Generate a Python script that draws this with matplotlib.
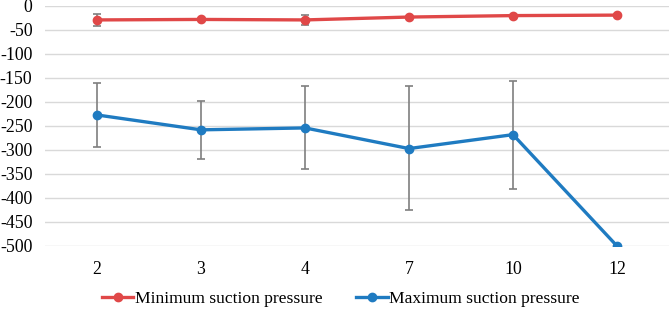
import matplotlib
matplotlib.use("Agg")
import matplotlib.pyplot as plt
import numpy as np

categories = ["2", "3", "4", "7", "10", "12"]

min_suction = [-29, -28, -29, -23, -20, -19]
min_err_lo = [13, 0, 11, 0, 0, 0]
min_err_hi = [12, 0, 10, 0, 0, 0]

max_suction = [-227, -258, -254, -297, -268, -500]
max_err_lo = [66, 60, 86, 129, 113, 0]
max_err_hi = [67, 60, 87, 130, 112, 0]

plt.rcParams["font.family"] = "Liberation Serif"
plt.rcParams["axes.unicode_minus"] = False

fig = plt.figure(figsize=(6.71, 3.09), dpi=100)
ax = fig.add_axes([45 / 671, 1 - 246 / 309, 624 / 671, 240 / 309])

x = np.arange(len(categories))
red = "#E04848"
blue = "#1F7BC1"

ax.errorbar(x, min_suction, yerr=[min_err_lo, min_err_hi], fmt="none",
            ecolor="#7f7f7f", elinewidth=1.2, capsize=3, capthick=1.2, zorder=2)
ax.errorbar(x, max_suction, yerr=[max_err_lo, max_err_hi], fmt="none",
            ecolor="#7f7f7f", elinewidth=1.2, capsize=3, capthick=1.2, zorder=2)
ax.plot(x, min_suction, color=red, lw=2.4, marker="o", ms=6,
        label="Minimum suction pressure", zorder=3)
ax.plot(x, max_suction, color=blue, lw=2.4, marker="o", ms=6,
        label="Maximum suction pressure", zorder=3)

ax.set_xlim(-0.5, len(categories) - 0.5)
ax.set_ylim(-500, 0)
ax.set_yticks(np.arange(-500, 1, 50))
ax.set_xticks(x)
ax.set_xticklabels(categories)
ax.grid(axis="y", color="#d9d9d9", lw=1)
ax.set_axisbelow(True)
for s in ax.spines.values():
    s.set_visible(False)
ax.tick_params(length=0, labelsize=12.8)
ax.tick_params(axis="x", pad=11)
ax.tick_params(axis="y", pad=9)

fig.legend(loc="lower center", ncol=2, frameon=False, fontsize=12.6,
           bbox_to_anchor=(0.508, -0.045), handlelength=1.8, columnspacing=1.9,
           handletextpad=0.1)

fig.savefig("out.png", dpi=100)
